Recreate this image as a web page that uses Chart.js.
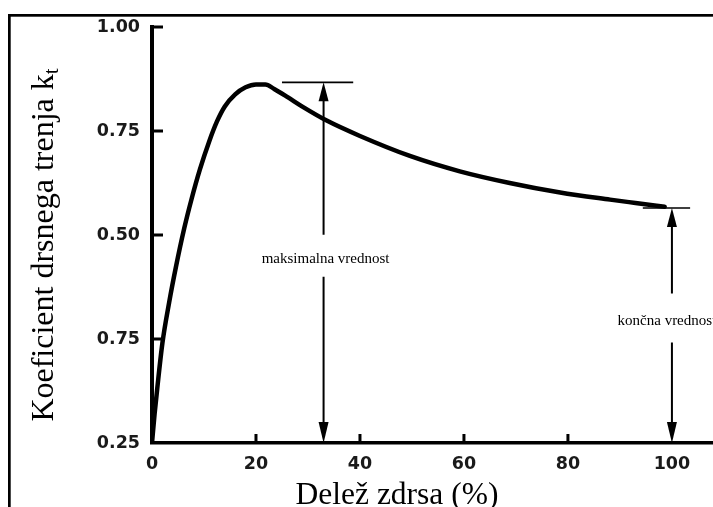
<!DOCTYPE html>
<html>
<head>
<meta charset="utf-8">
<script src="https://cdn.jsdelivr.net/npm/chart.js@4.4.1/dist/chart.umd.min.js"></script>
<style>
  html, body { margin: 0; padding: 0; background: #fff; }
  #wrap { width: 713px; height: 507px; }
</style>
</head>
<body>
<div id="wrap"><canvas id="c" width="713" height="507"></canvas></div>
<script>
// Slip ratio (%) and friction coefficient along the measured curve
const slip = [0, 0.5, 1.0, 2.0, 3.3, 4.6, 6.2, 7.6, 9.2, 11.0, 12.5, 14.0, 16.0, 18.0, 20.0, 21.8, 23.5, 26.0, 29.0, 33.6, 40, 49.6, 59.2, 68.8, 78.5, 88.1, 93.0, 98.6];
const kt   = [0, 0.07, 0.13, 0.24, 0.338, 0.423, 0.516, 0.586, 0.657, 0.725, 0.773, 0.809, 0.838, 0.855, 0.862, 0.862, 0.851, 0.832, 0.808, 0.775, 0.738, 0.69, 0.653, 0.625, 0.602, 0.585, 0.577, 0.568];

// Axis ticks
const xTicks = [0, 20, 40, 60, 80, 100];
const yTickPos = [0, 0.25, 0.5, 0.75, 1.0];
const yTickLabels = ['0.25', '0.75', '0.50', '0.75', '1.00'];

// Marked values: peak and final coefficient
const kMax = 0.867;
const slipAtMaxArrow = 33;
const maxBar = [25, 38.7];
const kEnd = 0.565;
const slipAtEndArrow = 100;
const endBar = [94.4, 103.5];

const maxLabel = 'maksimalna vrednost';
const endLabel = 'končna vrednost';
const xTitle = 'Delež zdrsa (%)';
const yTitle = 'Koeficient drsnega trenja k';
const yTitleSub = 't';

const points = slip.map((s, i) => ({ x: s, y: kt[i] }));

function arrowHead(ctx, x, y, dir, len, half) {
  ctx.beginPath();
  ctx.moveTo(x, y);
  ctx.lineTo(x - half, y + dir * len);
  ctx.lineTo(x + half, y + dir * len);
  ctx.closePath();
  ctx.fill();
}

function markArrow(ctx, xs, ys, slipVal, topVal, label, textShift, gapUp, gapDown) {
  const x = xs.getPixelForValue(slipVal);
  const yTop = ys.getPixelForValue(topVal);
  const yBot = ys.getPixelForValue(0);
  const yMid = (yTop + yBot) / 2 - 4;
  ctx.save();
  ctx.strokeStyle = '#000';
  ctx.fillStyle = '#000';
  ctx.lineWidth = 2;
  ctx.beginPath();
  ctx.moveTo(x, yTop + 10);
  ctx.lineTo(x, yMid - gapUp);
  ctx.moveTo(x, yMid + gapDown);
  ctx.lineTo(x, yBot - 10);
  ctx.stroke();
  arrowHead(ctx, x, yTop, 1, 19, 5);
  arrowHead(ctx, x, yBot, -1, 21, 5);
  ctx.font = '15px "Liberation Serif", "Times New Roman", serif';
  ctx.textAlign = 'center';
  ctx.textBaseline = 'middle';
  ctx.fillText(label, x + textShift, yMid);
  ctx.restore();
}

const figurePlugin = {
  id: 'figure',
  beforeDraw(chart) {
    const ctx = chart.ctx;
    ctx.save();
    ctx.fillStyle = '#fff';
    ctx.fillRect(0, 0, chart.width, chart.height);
    ctx.restore();
  },
  afterDraw(chart) {
    const ctx = chart.ctx;
    const xs = chart.scales.x, ys = chart.scales.y;
    const area = chart.chartArea;
    ctx.save();
    ctx.fillStyle = '#000';
    ctx.strokeStyle = '#000';

    // frame: top and left rules
    ctx.fillRect(8, 14, chart.width - 8, 2.7);
    ctx.fillRect(8, 14, 2.7, chart.height - 14);

    // inward tick marks
    ctx.lineWidth = 3;
    ctx.beginPath();
    yTickPos.forEach(v => {
      if (v === 0) return;
      const y = ys.getPixelForValue(v);
      ctx.moveTo(area.left, y);
      ctx.lineTo(area.left + 11, y);
    });
    xTicks.forEach(v => {
      if (v === 0 || v === 100) return;
      const x = xs.getPixelForValue(v);
      ctx.moveTo(x, area.bottom);
      ctx.lineTo(x, area.bottom - 9);
    });
    ctx.stroke();

    // reference bars at peak and final values
    ctx.lineWidth = 1.6;
    ctx.beginPath();
    ctx.moveTo(xs.getPixelForValue(maxBar[0]), ys.getPixelForValue(kMax));
    ctx.lineTo(xs.getPixelForValue(maxBar[1]), ys.getPixelForValue(kMax));
    ctx.moveTo(xs.getPixelForValue(endBar[0]), ys.getPixelForValue(kEnd));
    ctx.lineTo(xs.getPixelForValue(endBar[1]), ys.getPixelForValue(kEnd));
    ctx.stroke();
    ctx.restore();

    markArrow(ctx, xs, ys, slipAtMaxArrow, kMax, maxLabel, 2, 24, 18);
    markArrow(ctx, xs, ys, slipAtEndArrow, kEnd, endLabel, -5, 28, 21);

    // axis titles
    ctx.save();
    ctx.fillStyle = '#000';
    ctx.font = '31.5px "Liberation Serif", "Times New Roman", serif';
    ctx.textAlign = 'center';
    ctx.textBaseline = 'alphabetic';
    ctx.fillText(xTitle, 397, 504);

    const mainFont = '32px "Liberation Serif", "Times New Roman", serif';
    const subFont = '21px "Liberation Serif", "Times New Roman", serif';
    ctx.font = mainFont;
    const wMain = ctx.measureText(yTitle).width;
    ctx.font = subFont;
    const wSub = ctx.measureText(yTitleSub).width;
    const total = wMain + wSub;
    ctx.translate(53, 245);
    ctx.rotate(-Math.PI / 2);
    ctx.textAlign = 'left';
    ctx.font = mainFont;
    ctx.fillText(yTitle, -total / 2, 0);
    ctx.font = subFont;
    ctx.fillText(yTitleSub, -total / 2 + wMain, 5);
    ctx.restore();
  }
};

const tickFont = { family: '"DejaVu Sans", Arial, sans-serif', size: 17.5, weight: 'bold' };

new Chart(document.getElementById('c'), {
  type: 'line',
  data: {
    datasets: [{
      data: points,
      borderColor: '#000',
      borderWidth: 4.5,
      pointRadius: 0,
      fill: false,
      cubicInterpolationMode: 'monotone',
      borderCapStyle: 'round',
      borderJoinStyle: 'round'
    }]
  },
  options: {
    responsive: false,
    animation: false,
    devicePixelRatio: 1,
    layout: { padding: { top: 27, left: 0, right: 0, bottom: 0 } },
    plugins: { legend: { display: false }, tooltip: { enabled: false } },
    scales: {
      x: {
        type: 'linear',
        min: 0,
        max: 107.9,
        afterBuildTicks(s) { s.ticks = xTicks.map(v => ({ value: v })); },
        afterFit(s) { s.height = 64; },
        grid: { display: false, drawTicks: false },
        border: { display: true, color: '#000', width: 3.5 },
        ticks: {
          padding: 11,
          color: '#1a1a1a',
          font: tickFont,
          maxRotation: 0,
          callback: v => String(v)
        }
      },
      y: {
        type: 'linear',
        min: 0,
        max: 1,
        afterBuildTicks(s) { s.ticks = yTickPos.map(v => ({ value: v })); },
        afterFit(s) { s.width = 152; },
        grid: { display: false, drawTicks: false },
        border: { display: true, color: '#000', width: 4 },
        ticks: {
          padding: 12,
          color: '#1a1a1a',
          font: tickFont,
          callback: (v, i) => yTickLabels[i]
        }
      }
    }
  },
  plugins: [figurePlugin]
});
</script>
</body>
</html>
